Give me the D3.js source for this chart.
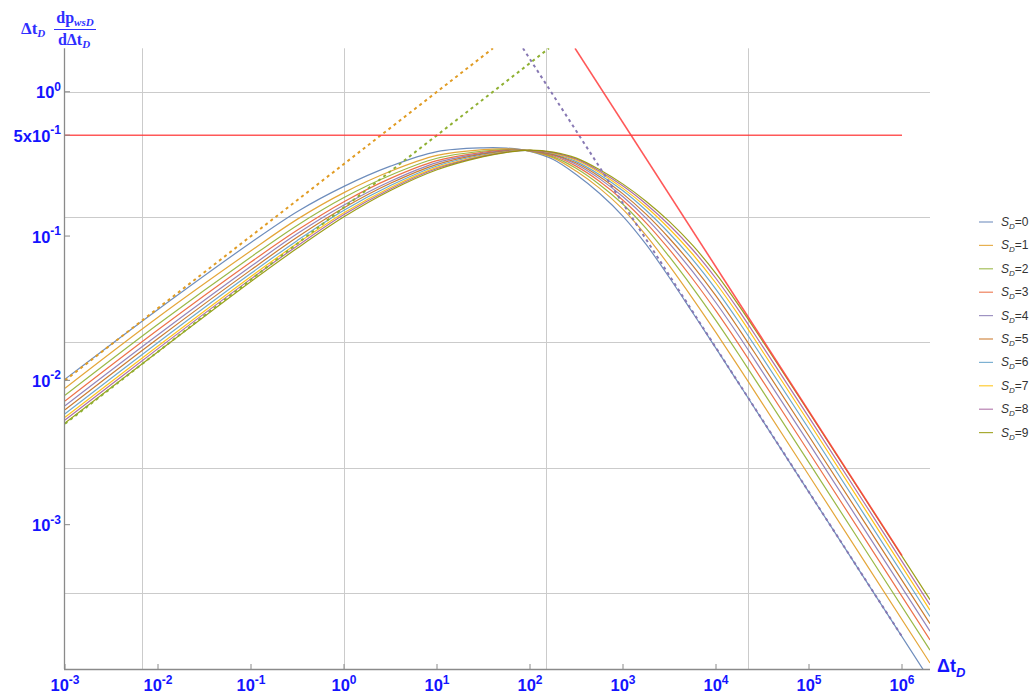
<!DOCTYPE html>
<html>
<head>
<meta charset="utf-8">
<script src="https://cdn.jsdelivr.net/npm/d3@7"></script>
<style>
  body { margin: 0; background: #ffffff; }
  svg { display: block; }
</style>
</head>
<body>
<svg id="chart" width="1034" height="696"></svg>
<script>
// Dimensionless time after shut-in
const dtD = [0.001, 0.01, 0.1, 0.316, 1, 3.16, 10, 31.6, 56.2, 100, 178, 316, 562,
             1000, 1780, 3160, 5620, 10000, 17800, 31600, 100000, 2000000];

// Pressure derivative  Δt_D · dp_wsD/dΔt_D  for skin S_D = 0 … 9
const derivS0 = [0.0102, 0.0310, 0.0902, 0.148, 0.221, 0.305, 0.385, 0.409, 0.407, 0.386, 0.339, 0.266, 0.197, 0.137, 0.0871, 0.0514, 0.0294, 0.01667, 0.00940, 0.00528, 0.001675, 0.0000837];
const derivS1 = [0.00883, 0.0274, 0.0791, 0.131, 0.200, 0.281, 0.362, 0.397, 0.402, 0.388, 0.348, 0.281, 0.214, 0.153, 0.1007, 0.0621, 0.0369, 0.02143, 0.01222, 0.00690, 0.002193, 0.000110];
const derivS2 = [0.00789, 0.0245, 0.0716, 0.119, 0.185, 0.264, 0.346, 0.388, 0.397, 0.389, 0.354, 0.294, 0.227, 0.166, 0.1125, 0.0716, 0.0438, 0.02594, 0.01493, 0.00845, 0.002692, 0.000135];
const derivS3 = [0.00719, 0.0224, 0.0661, 0.110, 0.173, 0.251, 0.333, 0.381, 0.394, 0.390, 0.360, 0.304, 0.239, 0.177, 0.1230, 0.0805, 0.0504, 0.03027, 0.01754, 0.00995, 0.003177, 0.000159];
const derivS4 = [0.00667, 0.0207, 0.0617, 0.104, 0.164, 0.240, 0.323, 0.375, 0.391, 0.391, 0.365, 0.313, 0.249, 0.187, 0.1327, 0.0887, 0.0566, 0.03451, 0.02014, 0.01146, 0.003656, 0.000183];
const derivS5 = [0.00625, 0.0195, 0.0583, 0.0984, 0.157, 0.232, 0.314, 0.371, 0.388, 0.392, 0.368, 0.321, 0.258, 0.196, 0.1413, 0.0962, 0.0624, 0.03846, 0.02249, 0.01282, 0.004102, 0.000206];
const derivS6 = [0.00587, 0.0183, 0.0552, 0.0933, 0.151, 0.224, 0.306, 0.366, 0.385, 0.392, 0.372, 0.328, 0.266, 0.206, 0.1503, 0.1042, 0.0687, 0.04276, 0.02518, 0.01439, 0.004603, 0.000231];
const derivS7 = [0.00556, 0.0173, 0.0525, 0.0891, 0.145, 0.217, 0.299, 0.361, 0.384, 0.393, 0.376, 0.335, 0.275, 0.214, 0.1589, 0.1119, 0.0748, 0.0471, 0.02786, 0.01592, 0.005105, 0.000256];
const derivS8 = [0.00531, 0.0166, 0.0505, 0.0857, 0.141, 0.212, 0.294, 0.358, 0.382, 0.393, 0.379, 0.341, 0.281, 0.222, 0.1663, 0.1189, 0.0804, 0.0508, 0.0302, 0.01726, 0.005546, 0.000278];
const derivS9 = [0.00507, 0.0158, 0.0484, 0.0826, 0.136, 0.207, 0.288, 0.355, 0.380, 0.394, 0.382, 0.347, 0.288, 0.229, 0.1738, 0.1259, 0.0861, 0.05495, 0.03273, 0.01875, 0.006026, 0.000302];

const skinValues = [0, 1, 2, 3, 4, 5, 6, 7, 8, 9];
const seriesColors = ["#5e81b5", "#e19c24", "#8fb032", "#eb6235", "#8778b3",
                      "#c56e1a", "#5d9ec7", "#ffbf00", "#a5609d", "#929600"];

// Straight-line asymptotes: [Δt_D, value] end points
const halfSlopeUpper = [[0.001, 0.0100], [40, 2.0]];
const halfSlopeLower = [[0.001, 0.0050], [160, 2.0]];
const unitSlopeLow   = [[84, 2.0], [1000000, 0.000168]];
const unitSlopeHigh  = [[305, 2.0], [1000000, 0.00061]];
const radialLevel    = [[0.001, 0.5], [1000000, 0.5]];

// Axis ticks
const xTickExponents = [-3, -2, -1, 0, 1, 2, 3, 4, 5, 6];
const yTickValues = [1, 0.5, 0.1, 0.01, 0.001];
const yTickLabels = [["10", "0"], ["5x10", "-1"], ["10", "-1"], ["10", "-2"], ["10", "-3"]];
// Grid lines sit at powers of e
const xGridValues = [Math.exp(-5), Math.exp(0), Math.exp(5), Math.exp(10)];
const yGridValues = [Math.exp(0), Math.exp(-2), Math.exp(-4), Math.exp(-6), Math.exp(-8)];

const curves = [derivS0, derivS1, derivS2, derivS3, derivS4,
                derivS5, derivS6, derivS7, derivS8, derivS9];

const svg = d3.select("#chart");
const plotLeft = 65, plotRight = 930, plotTop = 48.3, plotBottom = 669;

const x = d3.scaleLog().domain([0.001, 2000000]).range([plotLeft, plotRight]);
const y = d3.scaleLog().domain([0.0001, 2]).range([plotBottom, plotTop]);

svg.append("defs").append("clipPath").attr("id", "plotClip")
  .append("rect").attr("x", plotLeft).attr("y", plotTop)
  .attr("width", plotRight - plotLeft).attr("height", plotBottom - plotTop);

// grid
const grid = svg.append("g").attr("stroke", "#cbcbcb").attr("stroke-width", 1);
grid.selectAll("line.gx").data(xGridValues).join("line")
  .attr("x1", d => Math.round(x(d)) + 0.5).attr("x2", d => Math.round(x(d)) + 0.5)
  .attr("y1", plotTop).attr("y2", plotBottom);
grid.selectAll("line.gy").data(yGridValues).join("line")
  .attr("x1", plotLeft).attr("x2", plotRight)
  .attr("y1", d => Math.round(y(d)) + 0.5).attr("y2", d => Math.round(y(d)) + 0.5);

const plot = svg.append("g").attr("clip-path", "url(#plotClip)");

const line = d3.line()
  .x(d => x(d[0])).y(d => y(d[1]))
  .curve(d3.curveCatmullRom.alpha(0.5));

curves.forEach((vals, i) => {
  plot.append("path")
    .datum(dtD.map((t, k) => [t, vals[k]]))
    .attr("fill", "none")
    .attr("stroke", seriesColors[i])
    .attr("stroke-width", 1.2)
    .attr("stroke-opacity", 0.9)
    .attr("d", line);
});

const straight = d3.line().x(d => x(d[0])).y(d => y(d[1]));

[[halfSlopeUpper, "#e19c24"], [halfSlopeLower, "#8fb032"], [unitSlopeLow, "#8778b3"]]
  .forEach(([pts, col]) => {
    plot.append("path").datum(pts)
      .attr("fill", "none").attr("stroke", col)
      .attr("stroke-width", 2).attr("stroke-dasharray", "3,3.5")
      .attr("d", straight);
  });

[radialLevel, unitSlopeHigh].forEach(pts => {
  plot.append("path").datum(pts)
    .attr("fill", "none").attr("stroke", "#ff3b3b")
    .attr("stroke-opacity", 0.85)
    .attr("stroke-width", 1.6)
    .attr("d", straight);
});

// axes
const axisCol = "#8a8a8a";
svg.append("line").attr("x1", plotLeft - 0.5).attr("x2", plotLeft - 0.5)
  .attr("y1", plotTop).attr("y2", plotBottom).attr("stroke", axisCol).attr("stroke-width", 1.3);
svg.append("line").attr("x1", plotLeft - 1).attr("x2", plotRight)
  .attr("y1", plotBottom + 0.5).attr("y2", plotBottom + 0.5).attr("stroke", axisCol).attr("stroke-width", 1.3);

const labelBlue = "#1414ff";
const sans = "Liberation Sans, Arial, sans-serif";
const xTicks = svg.append("g");
xTickExponents.forEach(e => {
  const px = x(Math.pow(10, e));
  xTicks.append("line").attr("x1", px).attr("x2", px)
    .attr("y1", plotBottom).attr("y2", plotBottom - 5).attr("stroke", axisCol);
  const t = xTicks.append("text")
    .attr("x", px).attr("y", 691)
    .attr("text-anchor", "middle")
    .attr("font-family", sans)
    .attr("font-weight", "bold").attr("fill", labelBlue)
    .attr("font-size", 16.5);
  t.append("tspan").text("10");
  t.append("tspan").attr("dy", -7.5).attr("font-size", 12).text(e < 0 ? "-" + (-e) : String(e));
});

const yTicks = svg.append("g");
yTickValues.forEach((v, i) => {
  const py = y(v);
  yTicks.append("line").attr("x1", plotLeft).attr("x2", plotLeft + 5)
    .attr("y1", py).attr("y2", py).attr("stroke", axisCol);
  const t = yTicks.append("text")
    .attr("x", 61).attr("y", py + 6.5)
    .attr("text-anchor", "end")
    .attr("font-family", sans)
    .attr("font-weight", "bold").attr("fill", labelBlue)
    .attr("font-size", 16.5);
  t.append("tspan").text(yTickLabels[i][0]);
  t.append("tspan").attr("dy", -7.5).attr("font-size", 12).text(yTickLabels[i][1]);
});

// axis titles
const titleBlue = "#2f2fff";
const serif = "Liberation Serif, Times New Roman, serif";
const yt = svg.append("g").attr("fill", titleBlue).attr("font-family", serif).attr("font-weight", "bold");
const yt1 = yt.append("text").attr("x", 21).attr("y", 34).attr("font-size", 17);
yt1.append("tspan").text("Δt");
yt1.append("tspan").attr("dy", 3).attr("font-size", 11).attr("font-style", "italic").text("D");
const yt2 = yt.append("text").attr("x", 75).attr("y", 23).attr("font-size", 16).attr("text-anchor", "middle");
yt2.append("tspan").text("dp");
yt2.append("tspan").attr("dy", 3).attr("font-size", 11).attr("font-style", "italic").text("wsD");
const yt3 = yt.append("text").attr("x", 74).attr("y", 45).attr("font-size", 16).attr("text-anchor", "middle");
yt3.append("tspan").text("dΔt");
yt3.append("tspan").attr("dy", 3).attr("font-size", 11).attr("font-style", "italic").text("D");
yt.append("line").attr("x1", 54).attr("x2", 96).attr("y1", 29.5).attr("y2", 29.5)
  .attr("stroke", titleBlue).attr("stroke-width", 1.2);

const xt = svg.append("text").attr("x", 937).attr("y", 672)
  .attr("fill", labelBlue).attr("font-family", sans)
  .attr("font-weight", "bold").attr("font-size", 18);
xt.append("tspan").text("Δt");
xt.append("tspan").attr("dy", 5).attr("font-size", 13).attr("font-style", "italic").text("D");

// legend
const legend = svg.append("g");
skinValues.forEach((s, i) => {
  const ly = 222 + i * 23.4;
  legend.append("line").attr("x1", 979).attr("x2", 993)
    .attr("y1", ly).attr("y2", ly)
    .attr("stroke", seriesColors[i]).attr("stroke-width", 1.2).attr("stroke-opacity", 0.8);
  const t = legend.append("text").attr("x", 1001).attr("y", ly + 4)
    .attr("font-family", sans)
    .attr("font-size", 12).attr("fill", "#333");
  t.append("tspan").attr("font-style", "italic").text("S");
  t.append("tspan").attr("dy", 3).attr("font-size", 8).attr("font-style", "italic").text("D");
  t.append("tspan").attr("dy", -3).text("=" + s);
});
</script>
</body>
</html>
